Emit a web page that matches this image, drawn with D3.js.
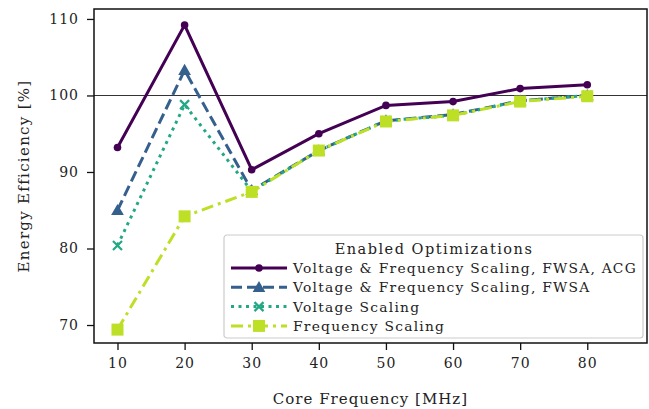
<!DOCTYPE html>
<html lang="en">
<head>
  <meta charset="UTF-8">
  <title>Energy Efficiency</title>
  <script src="https://d3js.org/d3.v7.min.js"></script>
</head>
<body>
</body>
<style>
  body {
    margin: 0;
    padding: 0;
    background: #fff;
  }

  text {
    font-family: "DejaVu Serif", serif;
    fill: #222;
  }
</style>
<script>
  const width = 649
  const height = 409

  // core frequency in MHz
  const freqs = [10, 20, 30, 40, 50, 60, 70, 80]

  const seriesNames = [
    'Voltage & Frequency Scaling, FWSA, ACG',
    'Voltage & Frequency Scaling, FWSA',
    'Voltage Scaling',
    'Frequency Scaling'
  ]

  const vfsFwsaAcg = [93.2, 109.2, 90.3, 95.0, 98.7, 99.2, 100.9, 101.4]
  const vfsFwsa = [85.0, 103.3, 87.6, 92.8, 96.7, 97.5, 99.3, 100.0]
  const voltageScaling = [80.4, 98.8, 87.5, 92.8, 96.7, 97.4, 99.3, 100.0]
  const frequencyScaling = [69.4, 84.2, 87.4, 92.8, 96.6, 97.4, 99.2, 99.9]

  const yTicks = [70, 80, 90, 100, 110]

  const margin = { left: 94, right: 2, top: 9, bottom: 66 }

  const x = d3.scaleLinear()
    .domain([6.5, 88.9])
    .range([margin.left, width - margin.right])

  const y = d3.scaleLinear()
    .domain([67.65, 111.3])
    .range([height - margin.bottom, margin.top])

  const series = [
    { name: seriesNames[0], values: vfsFwsaAcg, color: '#440154', dash: null, marker: 'circle' },
    { name: seriesNames[1], values: vfsFwsa, color: '#355f8d', dash: '11,5', marker: 'triangle' },
    { name: seriesNames[2], values: voltageScaling, color: '#22a884', dash: '3,4.5', marker: 'cross' },
    { name: seriesNames[3], values: frequencyScaling, color: '#bddf26', dash: '12,5,3,5', marker: 'square' }
  ]

  function drawMarker(g, type, color) {
    if (type === 'circle') {
      g.append('circle').attr('r', 3.8).attr('fill', color)
    } else if (type === 'triangle') {
      g.append('path').attr('d', d3.symbol(d3.symbolTriangle, 70)()).attr('fill', color)
        .attr('transform', 'translate(0,1)')
    } else if (type === 'cross') {
      g.append('path').attr('d', 'M-4.5,-4.5L4.5,4.5M-4.5,4.5L4.5,-4.5')
        .attr('stroke', color).attr('stroke-width', 2.2).attr('fill', 'none')
    } else {
      g.append('rect').attr('x', -6).attr('y', -6).attr('width', 12).attr('height', 12).attr('fill', color)
    }
  }

  function chart() {
    const svg = d3.create('svg')
      .attr('width', width)
      .attr('height', height)
      .attr('viewBox', [0, 0, width, height])

    // reference line at 100 %
    svg.append('line')
      .attr('x1', x.range()[0]).attr('x2', x.range()[1])
      .attr('y1', y(100)).attr('y2', y(100))
      .attr('stroke', '#333').attr('stroke-width', 1.1)

    const line = d3.line()
      .x((d, i) => x(freqs[i]))
      .y(d => y(d))

    for (const s of series) {
      const g = svg.append('g')
      g.append('path')
        .attr('d', line(s.values))
        .attr('fill', 'none')
        .attr('stroke', s.color)
        .attr('stroke-width', 3)
        .attr('stroke-dasharray', s.dash)
      g.selectAll('g')
        .data(s.values)
        .join('g')
        .attr('transform', (d, i) => `translate(${x(freqs[i])},${y(d)})`)
        .each(function () { drawMarker(d3.select(this), s.marker, s.color) })
    }

    // axes
    const xAxis = svg.append('g')
      .attr('transform', `translate(0,${height - margin.bottom})`)
      .call(d3.axisBottom(x).tickValues(freqs).tickSize(7).tickPadding(8))
    const yAxis = svg.append('g')
      .attr('transform', `translate(${margin.left},0)`)
      .call(d3.axisLeft(y).tickValues(yTicks).tickSize(7).tickPadding(8))

    for (const a of [xAxis, yAxis]) {
      a.select('.domain').remove()
      a.selectAll('.tick line').attr('stroke', '#111').attr('stroke-width', 1.3)
      a.selectAll('.tick text')
        .style('font-family', '"DejaVu Serif", serif')
        .style('font-size', '14px')
        .style('letter-spacing', '1px')
        .attr('fill', '#222')
    }

    // frame
    svg.append('rect')
      .attr('x', x.range()[0]).attr('y', y.range()[1])
      .attr('width', x.range()[1] - x.range()[0])
      .attr('height', y.range()[0] - y.range()[1])
      .attr('fill', 'none').attr('stroke', '#111').attr('stroke-width', 1.5)

    svg.append('text')
      .attr('x', (x.range()[0] + x.range()[1]) / 2)
      .attr('y', 404)
      .attr('text-anchor', 'middle')
      .style('font-size', '15px')
      .style('letter-spacing', '1px')
      .text('Core Frequency [MHz]')

    svg.append('text')
      .attr('transform', `translate(29,${(y.range()[0] + y.range()[1]) / 2}) rotate(-90)`)
      .attr('text-anchor', 'middle')
      .style('font-size', '15px')
      .style('letter-spacing', '1.3px')
      .text('Energy Efficiency [%]')

    // legend
    const lg = svg.append('g').attr('transform', 'translate(224,235)')
    lg.append('rect')
      .attr('width', 419).attr('height', 103).attr('rx', 3)
      .attr('fill', 'white').attr('fill-opacity', 0.85)
      .attr('stroke', '#ccc').attr('stroke-width', 1.2)
    lg.append('text')
      .attr('x', 210).attr('y', 19)
      .attr('text-anchor', 'middle')
      .style('font-size', '14.5px')
      .style('letter-spacing', '1.5px')
      .text('Enabled Optimizations')
    series.forEach((s, i) => {
      const row = lg.append('g').attr('transform', `translate(0,${33 + i * 19.3})`)
      row.append('line')
        .attr('x1', 7).attr('x2', 63)
        .attr('stroke', s.color).attr('stroke-width', 3)
        .attr('stroke-dasharray', s.dash)
      const m = row.append('g').attr('transform', 'translate(35,0)')
      drawMarker(m, s.marker, s.color)
      row.append('text')
        .attr('x', 69).attr('y', 5)
        .style('font-size', '13.8px')
        .style('letter-spacing', '1.25px')
        .text(s.name)
    })

    return svg.node()
  }

  document.body.appendChild(chart())
</script>
</html>
